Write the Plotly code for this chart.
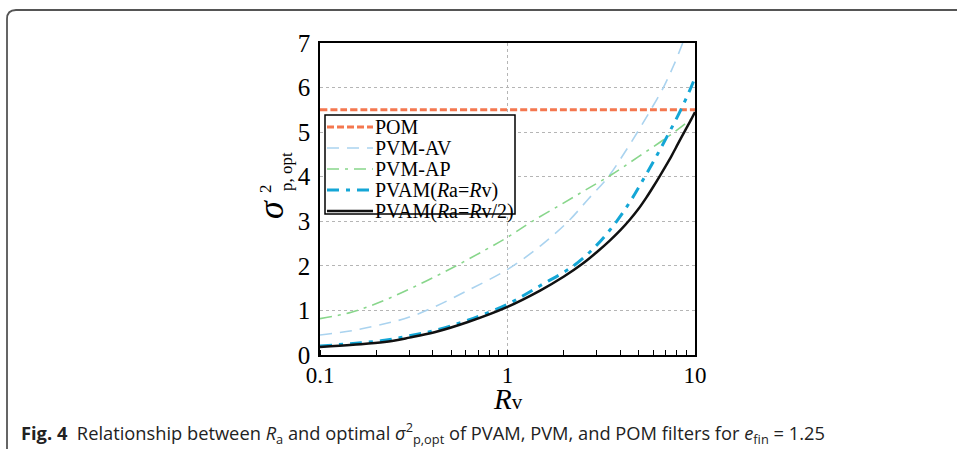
import plotly.graph_objects as go

# ---------------- data ----------------
pom_R = [0.1, 0.3, 1.0, 3.0, 10.0]
pom_s = [5.5, 5.5, 5.5, 5.5, 5.5]

av_R = [0.1, 0.15, 0.221, 0.3, 0.408, 0.615, 1.0, 1.5, 2.11, 2.7, 3.45, 4.3, 5.1, 5.9, 6.78, 7.7, 8.6]
av_s = [0.45, 0.55, 0.70, 0.85, 1.08, 1.45, 1.92, 2.45, 3.0, 3.5, 4.0, 4.6, 5.1, 5.55, 6.0, 6.5, 7.0]

ap_R = [0.1, 0.147, 0.221, 0.333, 0.5, 0.755, 1.0, 1.32, 1.9, 2.6, 3.6, 5.0, 7.3, 10.0]
ap_s = [0.815, 0.96, 1.23, 1.57, 1.94, 2.35, 2.64, 2.97, 3.36, 3.7, 4.05, 4.45, 4.92, 5.36]

pv_R = [0.1, 0.15, 0.221, 0.3, 0.408, 0.615, 1.0, 1.5, 2.25, 3.0, 3.82, 4.6, 5.4, 6.3, 7.3, 8.4, 9.4, 10.0]
pv_s = [0.20, 0.26, 0.33, 0.43, 0.55, 0.78, 1.14, 1.56, 2.0, 2.47, 3.0, 3.5, 4.0, 4.5, 5.0, 5.5, 5.95, 6.22]

ph_R = [0.1, 0.15, 0.221, 0.3, 0.408, 0.615, 1.0, 1.5, 2.0, 2.5, 3.0, 3.5, 4.0, 4.5, 5.0,
        5.5, 6.0, 6.5, 7.0, 7.5, 8.0, 8.5, 9.0, 9.5, 10.0]
ph_s = [0.18, 0.23, 0.29, 0.39, 0.51, 0.74, 1.08, 1.45, 1.76, 2.04, 2.31, 2.56, 2.80, 3.04, 3.28,
        3.53, 3.78, 4.02, 4.25, 4.47, 4.69, 4.90, 5.09, 5.27, 5.45]

names = ["POM", "PVM-AV", "PVM-AP",
         "PVAM(<i>R</i>a=<i>R</i>v)", "PVAM(<i>R</i>a=<i>R</i>v/2)"]
colors = ["#f4774f", "#aad3ef", "#88d68b", "#14a6d6", "#111111"]
widths = [3, 1.6, 1.6, 3, 2.5]
dashes = ["7px,3px", "12px,8px", "12px,6px,3px,6px", "12px,7px,4px,7px", "solid"]

x_ticks = [0.1, 1, 10]
x_tick_text = ["0.1", "1", "10"]
y_ticks = [0, 1, 2, 3, 4, 5, 6, 7]

series = [(pom_R, pom_s), (av_R, av_s), (ap_R, ap_s), (pv_R, pv_s), (ph_R, ph_s)]

# ---------------- layout geometry ----------------
W, H = 957, 449
L, R_, T, B = 320, 262, 43, 94
PW, PH = W - L - R_, H - T - B


def px2x(px):
    return (px - L) / PW


def px2y(py):
    return (H - B - py) / PH


SERIF = "Liberation Serif, Times New Roman, serif"

fig = go.Figure()
for (xs, ys), nm, c, w, d in zip(series, names, colors, widths, dashes):
    fig.add_trace(go.Scatter(x=xs, y=ys, name=nm, mode="lines",
                             line=dict(color=c, width=w, dash=d, shape="spline", smoothing=1.0),
                             showlegend=False))

shapes = []
annotations = []

# manual legend (compact row spacing as in the reference)
lx0, lx1, ly0, ly1 = 325, 515, 115, 214
shapes.append(dict(type="rect", xref="paper", yref="paper",
                   x0=px2x(lx0), x1=px2x(lx1), y0=px2y(ly1), y1=px2y(ly0),
                   line=dict(color="black", width=1.5), fillcolor="white", layer="above"))
for i, (nm, c, w, d) in enumerate(zip(names, colors, widths, dashes)):
    yc = 127 + i * 21
    shapes.append(dict(type="line", xref="paper", yref="paper",
                       x0=px2x(327), x1=px2x(373), y0=px2y(yc), y1=px2y(yc),
                       line=dict(color=c, width=w, dash=d), layer="above"))
    annotations.append(dict(xref="paper", yref="paper", x=px2x(373), y=px2y(yc),
                            text=nm, showarrow=False, xanchor="left", yanchor="middle",
                            font=dict(family=SERIF, size=20, color="black")))

# outer frame with rounded top-left corner
r = 9
path = (f"M {px2x(7)},{px2y(460)} L {px2x(7)},{px2y(10 + r)} "
        f"Q {px2x(7)},{px2y(10)} {px2x(7 + r)},{px2y(10)} L {px2x(970)},{px2y(10)}")
shapes.append(dict(type="path", xref="paper", yref="paper", path=path,
                   line=dict(color="#555555", width=1.8)))

# y-axis title pieces
annotations.append(dict(xref="paper", yref="paper", x=px2x(271), y=px2y(210),
                        xanchor="center", yanchor="middle",
                        text="<i>σ</i>", showarrow=False, textangle=-90,
                        font=dict(family=SERIF, size=36, color="black")))
annotations.append(dict(xref="paper", yref="paper", x=px2x(265), y=px2y(189),
                        xanchor="center", yanchor="middle",
                        text="2", showarrow=False, textangle=-90,
                        font=dict(family=SERIF, size=17, color="black")))
annotations.append(dict(xref="paper", yref="paper", x=px2x(286), y=px2y(172),
                        xanchor="center", yanchor="middle",
                        text="p, opt", showarrow=False, textangle=-90,
                        font=dict(family=SERIF, size=17, color="black")))

# x-axis title
annotations.append(dict(xref="paper", yref="paper", x=px2x(508), y=px2y(399),
                        xanchor="center", yanchor="middle",
                        text="<i>R</i><span style='font-size:21px'>v</span>",
                        showarrow=False,
                        font=dict(family=SERIF, size=29, color="black")))

# caption
annotations.append(dict(xref="paper", yref="paper", x=px2x(19), y=px2y(433),
                        xanchor="left", yanchor="middle", showarrow=False,
                        text=("<b>Fig. 4</b>  Relationship between <i>R</i><sub>a</sub> and optimal "
                              "<i>σ</i><sup>2</sup><sub>p,opt</sub> of PVAM, PVM, and POM filters for "
                              "<i>e</i><sub>fin</sub> = 1.25"),
                        font=dict(family="Open Sans, sans-serif", size=18.3, color="#222222")))

fig.update_layout(
    width=W, height=H,
    margin=dict(l=L, r=R_, t=T, b=B),
    paper_bgcolor="white", plot_bgcolor="white",
    shapes=shapes, annotations=annotations,
    showlegend=False,
    xaxis=dict(type="log", range=[-1, 1], tickvals=x_ticks, ticktext=x_tick_text,
               showgrid=True, gridcolor="#b5b5b5", griddash="dot", gridwidth=1,
               showline=True, linecolor="black", linewidth=1.5, mirror=True,
               ticks="", zeroline=False, ticklabelstandoff=-1,
               minor=dict(ticks="inside", ticklen=5, tickcolor="black", dtick="D1", showgrid=False),
               tickfont=dict(family=SERIF, size=23, color="black")),
    yaxis=dict(range=[0, 7], tickvals=y_ticks,
               showgrid=True, gridcolor="#b5b5b5", griddash="dot", gridwidth=1,
               showline=True, linecolor="black", linewidth=1.5, mirror=True,
               ticks="", zeroline=False, ticklabelstandoff=3,
               tickfont=dict(family=SERIF, size=25, color="black")),
)

fig.write_html("out.html")
